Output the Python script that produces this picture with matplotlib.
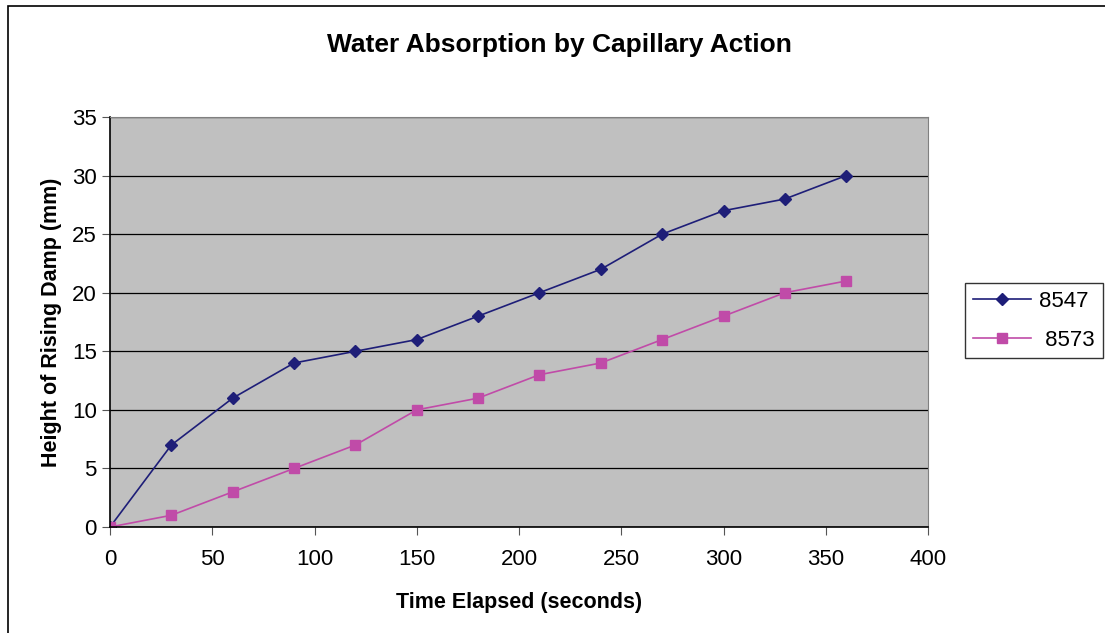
import matplotlib.pyplot as plt
from matplotlib.patches import Rectangle

plt.rcParams['font.family'] = ['Liberation Sans', 'DejaVu Sans']

time_s = [0, 30, 60, 90, 120, 150, 180, 210, 240, 270, 300, 330, 360]
h_8547 = [0, 7, 11, 14, 15, 16, 18, 20, 22, 25, 27, 28, 30]
h_8573 = [0, 1, 3, 5, 7, 10, 11, 13, 14, 16, 18, 20, 21]

W, H = 1105, 633
fig = plt.figure(figsize=(W / 100, H / 100), dpi=100)
# outer chart border (only left and top visible in the original crop)
fig.patches.append(Rectangle((8 / W, -0.1), 1.2, 1.1 - 6 / H, transform=fig.transFigure,
                             fill=False, edgecolor='black', linewidth=1.2))

ax = fig.add_axes([110 / W, 1 - 527 / H, 818 / W, 410 / H])
ax.set_facecolor('#C0C0C0')

ax.plot(time_s, h_8547, color='#1E1E78', marker='D', markersize=6.5, linewidth=1.2, label='8547')
ax.plot(time_s, h_8573, color='#C04BA8', marker='s', markersize=7, linewidth=1.2, label=' 8573')

ax.set_xlim(0, 400)
ax.set_ylim(0, 35)
ax.set_xticks(range(0, 401, 50))
ax.set_yticks(range(0, 36, 5))
ax.grid(axis='y', color='black', linewidth=0.9)
ax.set_axisbelow(True)

for s in ['top', 'right']:
    ax.spines[s].set_color('#808080')
for s in ['left', 'bottom']:
    ax.spines[s].set_color('black')
    ax.spines[s].set_linewidth(1.2)

ax.tick_params(axis='both', labelsize=16, length=6, direction='out', color='#555555')
ax.tick_params(axis='x', pad=10)

fig.text(559 / W, 1 - 45 / H, 'Water Absorption by Capillary Action', fontsize=19,
         fontweight='bold', ha='center', va='center')
ax.set_xlabel('Time Elapsed (seconds)', fontsize=15.5, fontweight='bold', labelpad=16)
ax.set_ylabel('Height of Rising Damp (mm)', fontsize=15.5, fontweight='bold', labelpad=7)

leg = fig.legend(loc='upper left', bbox_to_anchor=(965 / W, 1 - 283 / H), frameon=True,
                 fancybox=False, fontsize=16, handlelength=2.6, handletextpad=0.4,
                 borderpad=0.35, labelspacing=0.8, borderaxespad=0, edgecolor='black')
leg.get_frame().set_linewidth(1.0)

fig.savefig('out.png', dpi=100)
